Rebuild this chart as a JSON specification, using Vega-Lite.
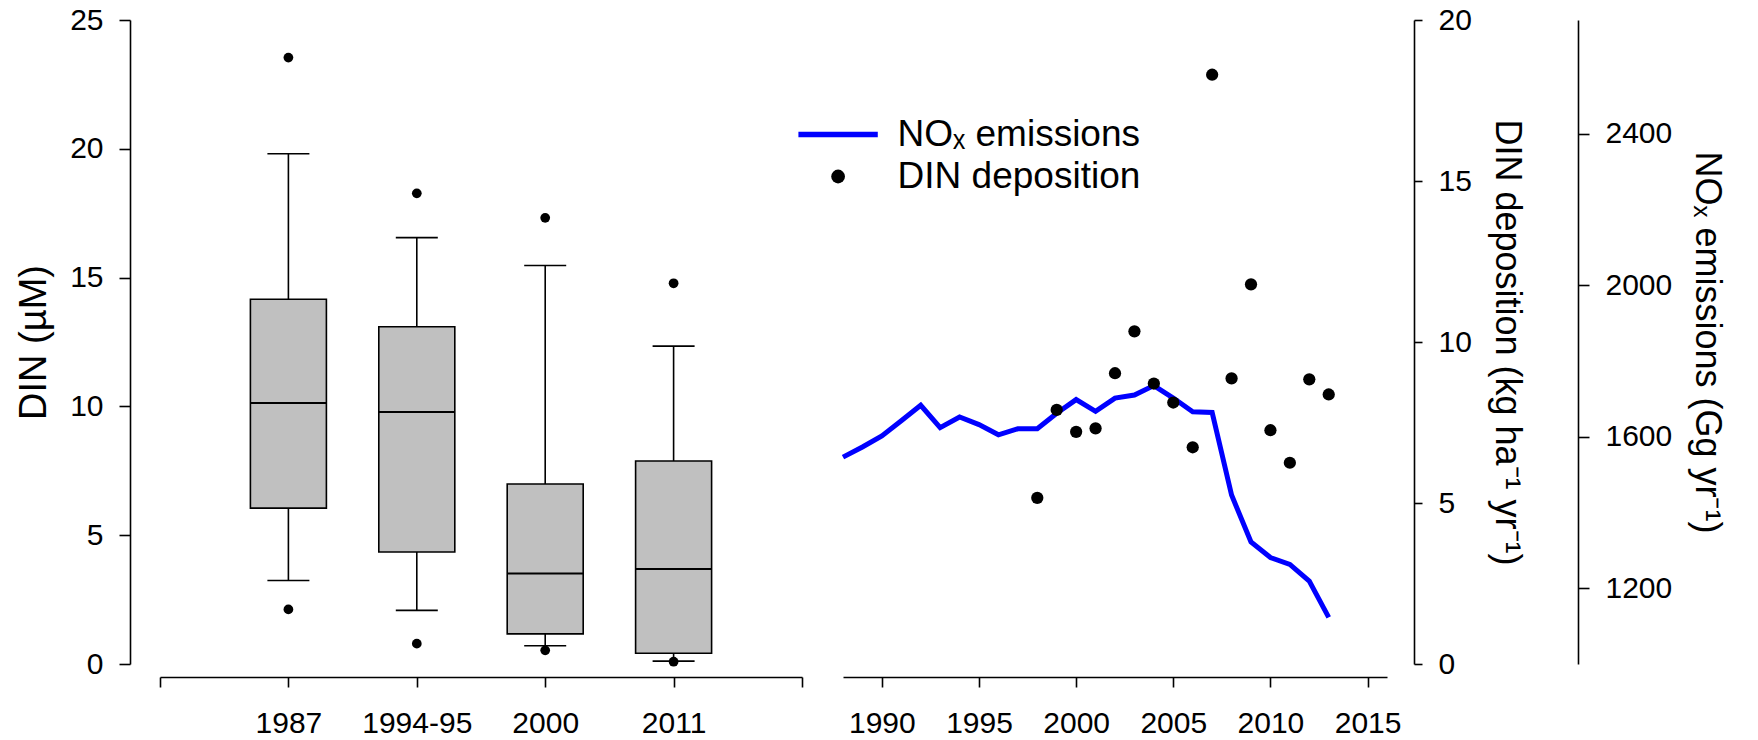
{
  "$schema": "https://vega.github.io/schema/vega-lite/v6.json",
  "background": "white",
  "padding": {"left": 15, "top": 5, "right": 5, "bottom": 5},
  "bounds": "flush",
  "spacing": 41,
  "config": {
    "font": "Liberation Sans",
    "view": {"stroke": null},
    "axis": {
      "grid": false,
      "domainColor": "black",
      "domainWidth": 1.6,
      "tickColor": "black",
      "tickWidth": 1.6,
      "labelColor": "black",
      "titleColor": "black",
      "labelFontSize": 30,
      "titleFontWeight": "normal",
      "labelFont": "Liberation Sans",
      "titleFont": "Liberation Sans",
      "labelFlush": false,
      "labelOverlap": false,
      "labelBound": false
    }
  },
  "datasets": {
    "boxes": [
      {"period": "1987", "lower": 3.24, "q1": 6.05, "median": 10.13, "q3": 14.16, "upper": 19.81},
      {"period": "1994-95", "lower": 2.08, "q1": 4.35, "median": 9.78, "q3": 13.09, "upper": 16.55},
      {"period": "2000", "lower": 0.71, "q1": 1.17, "median": 3.51, "q3": 6.99, "upper": 15.47},
      {"period": "2011", "lower": 0.11, "q1": 0.42, "median": 3.69, "q3": 7.88, "upper": 12.34}
    ],
    "outliers": [
      {"period": "1987", "din": 23.54},
      {"period": "1987", "din": 2.12},
      {"period": "1994-95", "din": 18.27},
      {"period": "1994-95", "din": 0.79},
      {"period": "2000", "din": 17.32},
      {"period": "2000", "din": 0.53},
      {"period": "2011", "din": 14.78},
      {"period": "2011", "din": 0.09}
    ],
    "nox": [
      {"year": 1988, "nox": 1546},
      {"year": 1989, "nox": 1573},
      {"year": 1990, "nox": 1602},
      {"year": 1991, "nox": 1642},
      {"year": 1992, "nox": 1683},
      {"year": 1993, "nox": 1624},
      {"year": 1994, "nox": 1652},
      {"year": 1995, "nox": 1632},
      {"year": 1996, "nox": 1605},
      {"year": 1997, "nox": 1621},
      {"year": 1998, "nox": 1621},
      {"year": 1999, "nox": 1662},
      {"year": 2000, "nox": 1698},
      {"year": 2001, "nox": 1667},
      {"year": 2002, "nox": 1702},
      {"year": 2003, "nox": 1710},
      {"year": 2004, "nox": 1735},
      {"year": 2005, "nox": 1702},
      {"year": 2006, "nox": 1666},
      {"year": 2007, "nox": 1664},
      {"year": 2008, "nox": 1446},
      {"year": 2009, "nox": 1322},
      {"year": 2010, "nox": 1281},
      {"year": 2011, "nox": 1263},
      {"year": 2012, "nox": 1219},
      {"year": 2013, "nox": 1123}
    ],
    "dep": [
      {"year": 1998, "din": 5.16},
      {"year": 1999, "din": 7.89},
      {"year": 2000, "din": 7.21},
      {"year": 2001, "din": 7.32},
      {"year": 2002, "din": 9.03},
      {"year": 2003, "din": 10.33},
      {"year": 2004, "din": 8.71},
      {"year": 2005, "din": 8.12},
      {"year": 2006, "din": 6.73},
      {"year": 2007, "din": 18.3},
      {"year": 2008, "din": 8.87},
      {"year": 2009, "din": 11.79},
      {"year": 2010, "din": 7.26},
      {"year": 2011, "din": 6.25},
      {"year": 2012, "din": 8.84},
      {"year": 2013, "din": 8.37}
    ]
  },
  "hconcat": [
    {
      "width": 642,
      "height": 644,
      "layer": [
        {
          "data": {"name": "boxes"},
          "mark": {"type": "rule", "color": "black", "strokeWidth": 1.6},
          "encoding": {
            "x": {
              "field": "period", "type": "ordinal",
              "scale": {"type": "point", "domain": ["L", "1987", "1994-95", "2000", "2011", "R"], "padding": 0},
              "axis": {
                "title": null, "offset": 13, "tickSize": 10, "labelPadding": 21, "labelAngle": 0,
                "labelExpr": "datum.value == 'L' || datum.value == 'R' ? '' : datum.value"
              }
            },
            "y": {
              "field": "lower", "type": "quantitative",
              "scale": {"domain": [0, 25], "nice": false, "zero": false},
              "axis": {
                "title": "DIN (µM)", "titleFontSize": 38, "values": [0, 5, 10, 15, 20, 25],
                "offset": 30, "tickSize": 11, "labelPadding": 16, "titlePadding": 16
              }
            },
            "y2": {"field": "upper"}
          }
        },
        {
          "data": {"name": "boxes"},
          "mark": {"type": "bar", "size": 76, "fill": "#c0c0c0", "stroke": "black", "strokeWidth": 1.6, "opacity": 1},
          "encoding": {
            "x": {"field": "period", "type": "ordinal"},
            "y": {"field": "q1", "type": "quantitative"},
            "y2": {"field": "q3"}
          }
        },
        {
          "data": {"name": "boxes"},
          "mark": {"type": "tick", "size": 76, "thickness": 2, "color": "black", "opacity": 1},
          "encoding": {
            "x": {"field": "period", "type": "ordinal"},
            "y": {"field": "median", "type": "quantitative"}
          }
        },
        {
          "data": {"name": "boxes"},
          "mark": {"type": "tick", "size": 42, "thickness": 1.6, "color": "black", "opacity": 1},
          "encoding": {
            "x": {"field": "period", "type": "ordinal"},
            "y": {"field": "lower", "type": "quantitative"}
          }
        },
        {
          "data": {"name": "boxes"},
          "mark": {"type": "tick", "size": 42, "thickness": 1.6, "color": "black", "opacity": 1},
          "encoding": {
            "x": {"field": "period", "type": "ordinal"},
            "y": {"field": "upper", "type": "quantitative"}
          }
        },
        {
          "data": {"name": "outliers"},
          "mark": {"type": "point", "filled": true, "size": 95, "color": "black", "opacity": 1},
          "encoding": {
            "x": {"field": "period", "type": "ordinal"},
            "y": {"field": "din", "type": "quantitative"}
          }
        }
      ]
    },
    {
      "width": 544,
      "height": 644,
      "layer": [
        {
          "data": {"name": "nox"},
          "mark": {"type": "line", "strokeWidth": 5},
          "encoding": {
            "x": {
              "field": "year", "type": "quantitative",
              "scale": {"domain": [1988, 2016], "nice": false, "zero": false},
              "axis": {
                "title": null, "values": [1990, 1995, 2000, 2005, 2010, 2015], "format": "d",
                "offset": 13, "tickSize": 10, "labelPadding": 21
              }
            },
            "y": {
              "field": "nox", "type": "quantitative",
              "scale": {"domain": [1000, 2700], "nice": false, "zero": false},
              "axis": {
                "orient": "right", "offset": 191, "values": [1200, 1600, 2000, 2400], "format": "d",
                "tickSize": 11, "labelPadding": 16,
                "title": "NOₓ emissions (Gg yr⁻¹)", "titleFontSize": 36, "titlePadding": 16
              }
            },
            "color": {
              "datum": "NOₓ emissions", "type": "nominal",
              "scale": {"domain": ["NOₓ emissions", "DIN deposition"], "range": ["#0000ff", "#000000"]},
              "legend": {
                "orient": "none", "legendX": 659.6, "legendY": 96, "title": null,
                "padding": 0, "symbolType": "stroke", "symbolSize": 6300, "symbolStrokeWidth": 5.5,
                "labelFontSize": 37, "labelOffset": 41, "labelLimit": 0, "labelColor": "black",
                "rowPadding": 4,
                "encode": {
                  "symbols": {
                    "update": {
                      "shape": {"signal": "datum.value === 'DIN deposition' ? 'circle' : 'stroke'"},
                      "size": {"signal": "datum.value === 'DIN deposition' ? 190 : 6300"},
                      "strokeWidth": {"signal": "datum.value === 'DIN deposition' ? 0 : 5.5"},
                      "fill": {"signal": "datum.value === 'DIN deposition' ? '#000000' : 'transparent'"},
                      "stroke": {"signal": "datum.value === 'DIN deposition' ? '#000000' : '#0000ff'"},
                      "opacity": {"value": 1}
                    }
                  }
                }
              }
            }
          }
        },
        {
          "data": {"name": "dep"},
          "mark": {"type": "point", "filled": true, "size": 150, "opacity": 1},
          "encoding": {
            "x": {"field": "year", "type": "quantitative"},
            "y": {
              "field": "din", "type": "quantitative",
              "scale": {"domain": [0, 20], "nice": false, "zero": false},
              "axis": {
                "orient": "right", "offset": 27, "values": [0, 5, 10, 15, 20],
                "tickSize": 8, "labelPadding": 16,
                "title": "DIN deposition (kg ha⁻¹ yr⁻¹)", "titleFontSize": 36, "titlePadding": 16
              }
            },
            "color": {"datum": "DIN deposition", "type": "nominal"}
          }
        }
      ],
      "resolve": {"scale": {"y": "independent"}}
    }
  ]
}
